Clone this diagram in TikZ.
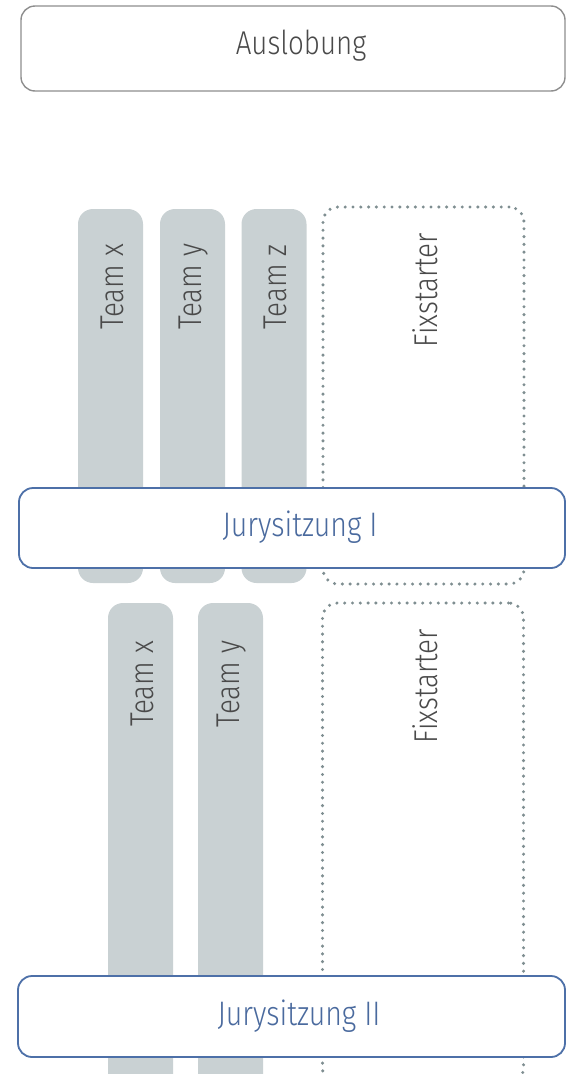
\documentclass[tikz,border=0pt]{standalone}
\usepackage{fontspec}
\setmainfont{Fira Sans}[UprightFont=* Light, FakeStretch=0.84]
\definecolor{ausl}{HTML}{8E8E8E}
\definecolor{jury}{HTML}{4D70A8}
\definecolor{juryText}{HTML}{4A6A9E}
\definecolor{teamFill}{HTML}{C9D1D3}
\definecolor{dotc}{HTML}{7F8E91}
\definecolor{txt}{HTML}{4A4A4A}
\tikzset{
  widebox/.style={draw, rounded corners=14pt, fill=white, inner sep=0pt},
  auslbox/.style={widebox, draw=ausl, line width=1.4pt},
  jurybox/.style={widebox, draw=jury, line width=1.8pt},
  teamcol/.style={fill=teamFill, rounded corners=15pt, inner sep=0pt, minimum width=65pt},
  fixbox/.style={draw=dotc, line width=3.4pt, line cap=round, dash pattern=on 0pt off 7.8pt, rounded corners=15pt, inner sep=0pt, minimum width=201pt},
  lbl/.style={font=\fontsize{33}{36}\selectfont, text=txt, inner sep=0pt},
  vlbl/.style={lbl, rotate=90},
  jlbl/.style={lbl, text=juryText, font=\fontsize{34}{37}\selectfont},
}
\begin{document}
\begin{tikzpicture}[x=1pt,y=-1pt]
\useasboundingbox (0,0) rectangle (566,1074);
\clip (0,0) rectangle (566,1074);
% row 1 teams
\node[teamcol, minimum height=374pt] (t1x) at (110.5,396) {};
\node[teamcol, minimum height=374pt] (t1y) at (192.5,396) {};
\node[teamcol, minimum height=374pt] (t1z) at (274,396) {};
\node[fixbox, minimum height=377pt] (f1) at (423.5,395.5) {};
\node[vlbl] (l1x) at (112,287) {Team x};
\node[vlbl] (l1y) at (194,287) {Team y};
\node[vlbl] (l1z) at (275.5,287) {Team z};
\node[vlbl] (l1f) at (425,290) {Fixstarter};
% row 2 teams
\node[teamcol, minimum height=500pt] (t2x) at (140.5,853) {};
\node[teamcol, minimum height=500pt] (t2y) at (230.5,853) {};
\node[fixbox, minimum height=480pt] (f2) at (423,843) {};
\node[vlbl] (l2x) at (142,684) {Team x};
\node[vlbl] (l2y) at (232,684) {Team y};
\node[vlbl] (l2f) at (425,686) {Fixstarter};
% wide boxes
\node[auslbox, minimum width=544pt, minimum height=85pt] (ausl) at (293,48.5) {};
\node[lbl] (al) at (301,46) {Auslobung};
\node[jurybox, minimum width=546pt, minimum height=80pt] (j1) at (292,528) {};
\node[jlbl] (j1l) at (300,527) {Jurysitzung I};
\node[jurybox, minimum width=547pt, minimum height=81pt] (j2) at (291.5,1016.5) {};
\node[jlbl] (j2l) at (299,1016) {Jurysitzung II};
\end{tikzpicture}
\end{document}
